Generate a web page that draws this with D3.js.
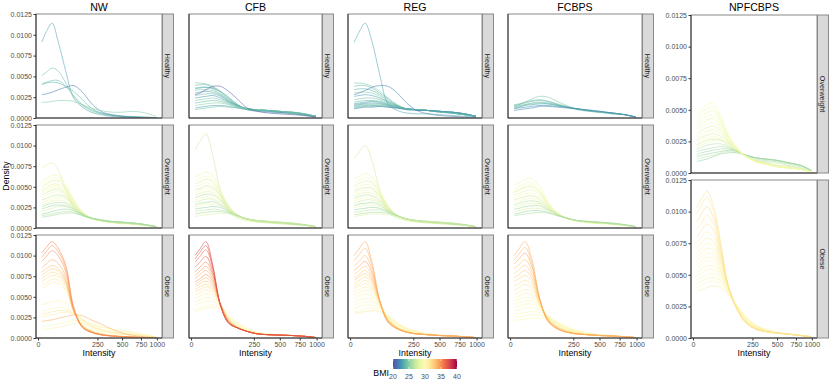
<!DOCTYPE html>
<html>
<head>
<meta charset="utf-8">
<script src="https://cdn.jsdelivr.net/npm/d3@7"></script>
<style>
  body { margin: 0; background: #fff; }
  svg { font-family: "Liberation Sans", Arial, sans-serif; display: block; }
</style>
</head>
<body>
<script>
// intensity grid shared by every density curve
const intensity = [1, 5, 14, 30, 55, 90, 140, 200, 280, 380, 500, 650, 820, 990]

const groups = ["NW", "CFB", "REG", "FCBPS", "NPFCBPS"]
const classes = ["Healthy", "Overweight", "Obese"]
const yTicks = [0, 0.0025, 0.005, 0.0075, 0.01, 0.0125]
const xTicks = [0, 250, 500, 750, 1000]
const bmiTicks = [20, 25, 30, 35, 40]

// each row: [BMI, density x 1e-4 at every intensity]
const nwHealthy = [
  [23.0, 91, 104, 114, 90, 56, 24, 13, 7, 4, 2, 1, 1, 0.5, 0.3],
  [24.3, 51, 55, 60, 56, 42, 26, 15, 9, 5, 3, 2, 1.5, 1, 0.5],
  [24.0, 41, 43, 45, 45, 38, 27, 16, 10, 6, 4, 2.5, 1.5, 1, 0.5],
  [23.6, 40, 42, 43, 42, 38, 32, 22, 12, 6, 3, 2, 1, 0.6, 0.3],
  [21.5, 28, 29, 31, 34, 37, 39, 31, 18, 8, 4, 2, 1, 0.5, 0.2],
  [24.8, 19, 19, 20, 21, 21, 20, 16, 12, 9, 7, 7, 8, 6, 2]
]
const nwOverweight = [
  [27.8, 73, 76, 79, 70, 45, 25, 15, 11, 9, 7, 6, 5, 4, 2],
  [28.8, 57, 60, 64, 63, 52, 35, 20, 13, 9, 7, 6, 5, 4, 2],
  [29.3, 53, 56, 60, 60, 50, 33, 19, 12, 9, 7, 6, 5, 3.5, 1.5],
  [27.5, 50, 53, 57, 57, 48, 32, 19, 12, 9, 7, 6, 5, 3.5, 1.5],
  [28.4, 46, 49, 53, 53, 46, 31, 19, 12, 9, 7, 6, 5, 3.5, 1.5],
  [29.5, 45, 48, 52, 51, 42, 28, 17, 11, 8, 6, 5, 4, 3, 1.2],
  [29.7, 43, 46, 49, 50, 44, 30, 18, 12, 9, 7, 6, 5, 3.5, 1.5],
  [27.1, 40, 43, 46, 47, 41, 29, 18, 12, 9, 7, 6, 5, 3.5, 1.5],
  [28.9, 37, 40, 43, 44, 39, 28, 18, 12, 9, 7, 6, 5, 3.5, 1.5],
  [26.6, 34, 36, 39, 40, 37, 27, 17, 12, 9, 7, 6, 5, 3.5, 1.5],
  [29.0, 31, 33, 36, 37, 35, 26, 17, 12, 9, 7, 6, 5, 3.5, 1.5],
  [28.2, 28, 30, 33, 34, 32, 25, 17, 12, 9, 7, 6, 5, 3.5, 1.5],
  [26.0, 26, 28, 30, 31, 30, 24, 17, 12, 9, 7, 6, 5, 3.5, 1.5],
  [25.6, 23, 25, 27, 28, 27, 23, 16, 12, 9, 8, 7, 6, 4, 1.5],
  [27.4, 20, 22, 24, 26, 26, 22, 16, 12, 9, 8, 7, 6, 4, 1.5],
  [25.4, 17, 18, 20, 22, 23, 21, 16, 12, 10, 8, 7, 6, 4, 1.5],
  [26.3, 15, 16, 17, 19, 20, 19, 15, 12, 10, 8, 7, 6, 4, 1.5],
  [25.8, 13, 14, 15, 17, 18, 18, 15, 12, 10, 8, 7, 6, 4, 1.5]
]
const nwObese = [
  [30.5, 10, 11, 12, 13, 15, 17, 18, 16, 13, 11, 9, 7, 4, 1.5],
  [30.2, 14, 15, 16, 17, 19, 21, 21, 18, 14, 10, 8, 6, 4, 1],
  [30.8, 26, 27, 28, 30, 31, 29, 23, 16, 11, 8, 6, 5, 3, 1],
  [31.8, 29, 30, 32, 33, 33, 30, 22, 14, 10, 7, 5, 4, 2.5, 0.8],
  [30.3, 33, 34, 36, 37, 36, 31, 22, 14, 9, 7, 5, 4, 2.5, 0.8],
  [30.6, 40, 42, 44, 45, 42, 33, 20, 12, 8, 6, 4, 3, 2, 0.8],
  [31.0, 60, 63, 67, 66, 58, 33, 16, 9, 5, 3, 2, 1, 0.5, 0.3],
  [31.5, 64, 67, 71, 70, 61, 33, 16, 9, 5, 3, 2, 1, 0.5, 0.3],
  [32.0, 68, 72, 76, 74, 64, 33, 15, 8, 5, 3, 2, 1, 0.5, 0.3],
  [32.6, 72, 76, 80, 77, 66, 33, 15, 8, 5, 3, 2, 1, 0.5, 0.3],
  [33.0, 76, 80, 84, 81, 68, 33, 14, 8, 4, 2.5, 1.5, 1, 0.5, 0.3],
  [33.5, 80, 84, 88, 84, 70, 33, 14, 8, 4, 2.5, 1.5, 1, 0.5, 0.3],
  [34.0, 20, 21, 22, 24, 26, 28, 27, 22, 17, 11, 6, 3, 1.5, 0.5],
  [34.2, 85, 90, 95, 90, 74, 34, 13, 7, 4, 2.5, 1.5, 1, 0.5, 0.3],
  [35.0, 93, 99, 106, 99, 80, 35, 13, 7, 4, 2.5, 1.5, 1, 0.5, 0.3],
  [34.8, 98, 105, 112, 104, 84, 36, 13, 7, 4, 2.5, 1.5, 1, 0.5, 0.3],
  [35.5, 103, 110, 117, 108, 88, 38, 13, 7, 4, 2.5, 1.5, 1, 0.5, 0.3]
]

const cfbHealthy = [
  [24.5, 42, 42, 41, 38, 32, 24, 15, 11, 10, 9, 8, 6, 4, 2],
  [24.0, 39, 40, 40, 37, 31, 23, 15, 11, 10, 9, 7, 6, 4, 2],
  [23.5, 36, 37, 37, 35, 29, 22, 15, 11, 10, 9, 7, 6, 4, 2],
  [23.2, 35, 36, 37, 36, 32, 25, 16, 10, 8, 7, 6, 5, 3, 1],
  [24.8, 33, 34, 34, 33, 28, 21, 15, 11, 10, 9, 7, 6, 4, 2],
  [23.0, 30, 31, 32, 31, 27, 20, 15, 11, 9, 8, 7, 6, 4, 2],
  [24.2, 27, 28, 29, 29, 26, 20, 14, 11, 10, 9, 8, 6, 4, 2],
  [22.5, 24, 25, 26, 27, 24, 19, 14, 11, 9, 8, 7, 6, 4, 2],
  [24.6, 21, 22, 23, 24, 22, 18, 14, 11, 10, 9, 8, 6, 4, 2],
  [23.8, 18, 19, 20, 21, 20, 17, 13, 11, 10, 9, 8, 7, 5, 2],
  [24.9, 15, 16, 17, 18, 18, 16, 13, 11, 10, 9, 8, 7, 5, 2],
  [22.8, 12, 13, 14, 15, 15, 14, 12, 10, 9, 9, 8, 7, 5, 2],
  [24.4, 10, 11, 12, 13, 14, 13, 12, 10, 9, 9, 8, 7, 5, 2],
  [20.5, 28, 30, 34, 38, 38, 32, 22, 12, 8, 6, 5, 4, 3, 1]
]
const cfbOverweight = [
  [27.0, 95, 105, 114, 88, 45, 20, 12, 9, 7, 6, 5, 4, 3, 1],
  [28.5, 62, 65, 68, 63, 46, 27, 15, 10, 8, 7, 6, 5, 3.5, 1.5],
  [29.4, 57, 60, 63, 59, 44, 26, 15, 10, 8, 7, 6, 5, 3.5, 1.5],
  [27.6, 53, 56, 59, 56, 42, 26, 15, 10, 8, 7, 6, 5, 3.5, 1.5],
  [28.9, 49, 52, 55, 52, 40, 25, 15, 10, 8, 7, 6, 5, 3.5, 1.5],
  [26.8, 46, 48, 51, 49, 39, 25, 15, 10, 8, 7, 6, 5, 3.5, 1.5],
  [29.8, 43, 45, 48, 46, 37, 24, 15, 10, 8, 7, 6, 5, 3.5, 1.5],
  [28.0, 40, 42, 44, 43, 35, 24, 15, 10, 8, 7, 6, 5, 3.5, 1.5],
  [26.2, 37, 39, 41, 40, 34, 23, 15, 11, 8, 7, 6, 5, 3.5, 1.5],
  [29.1, 34, 36, 38, 37, 32, 23, 15, 11, 8, 7, 6, 5, 3.5, 1.5],
  [27.3, 31, 33, 35, 35, 30, 22, 15, 11, 8, 7, 6, 5, 3.5, 1.5],
  [25.7, 28, 30, 31, 32, 28, 21, 15, 11, 9, 7, 6, 5, 3.5, 1.5],
  [28.3, 26, 27, 29, 29, 27, 21, 15, 11, 9, 7, 6, 5, 3.5, 1.5],
  [25.3, 23, 24, 25, 26, 25, 20, 15, 11, 9, 8, 7, 5, 4, 1.5],
  [26.5, 20, 21, 22, 23, 22, 19, 14, 11, 9, 8, 7, 6, 4, 1.5],
  [25.9, 17, 18, 19, 20, 20, 18, 14, 11, 9, 8, 7, 6, 4, 1.5],
  [27.9, 14, 15, 16, 17, 18, 17, 14, 11, 9, 8, 7, 6, 4, 1.5]
]
const cfbObese = [
  [30.5, 32, 34, 36, 37, 35, 27, 18, 12, 7, 5, 4, 3, 2, 0.5],
  [30.2, 35, 37, 39, 40, 37, 27, 17, 11, 7, 5, 4, 3, 2, 0.5],
  [30.4, 40, 42, 44, 44, 39, 26, 16, 10, 6, 4, 3.5, 3, 2, 0.5],
  [30.7, 44, 46, 49, 48, 40, 25, 15, 9, 6, 4, 3.5, 3, 2, 0.5],
  [31.0, 48, 51, 54, 52, 41, 24, 14, 9, 6, 4, 3.5, 3, 2, 0.5],
  [31.5, 52, 55, 58, 55, 41, 23, 13, 8, 5, 4, 3.5, 3, 2, 0.5],
  [32.0, 56, 59, 62, 58, 41, 22, 13, 8, 5, 4, 3.5, 3, 2, 0.5],
  [32.5, 59, 62, 65, 60, 41, 21, 13, 8, 5, 4, 3.5, 3, 2, 0.5],
  [33.0, 62, 66, 69, 63, 41, 21, 12, 8, 5, 4, 3.5, 3, 2, 0.5],
  [33.5, 65, 69, 73, 65, 41, 20, 12, 8, 5, 4, 3.5, 3, 2, 0.5],
  [35.0, 68, 72, 77, 68, 41, 20, 12, 8, 5, 4, 3.5, 3, 2, 0.5],
  [34.0, 72, 77, 82, 71, 41, 19, 12, 8, 5, 4, 3.5, 3, 2, 0.5],
  [34.6, 76, 81, 87, 74, 40, 19, 12, 8, 5, 4, 3.5, 3, 2, 0.5],
  [35.5, 80, 86, 92, 77, 40, 19, 12, 8, 5, 4, 3.5, 3, 2, 0.5],
  [36.8, 86, 92, 99, 80, 40, 18, 12, 8, 5, 4, 3.5, 3, 2, 0.5],
  [36.2, 92, 99, 107, 84, 40, 18, 12, 8, 5, 4, 3.5, 3, 2, 0.5],
  [37.0, 96, 104, 112, 86, 39, 18, 12, 8, 5, 4, 3.5, 3, 2, 0.5],
  [37.5, 100, 108, 117, 88, 39, 18, 12, 8, 5, 4, 3.5, 3, 2, 0.5]
]

const regHealthy = [
  [24.6, 42, 42, 41, 38, 32, 24, 16, 11, 10, 9, 8, 6, 4, 2],
  [24.0, 38, 39, 39, 36, 30, 23, 15, 11, 10, 9, 8, 6, 4, 2],
  [23.4, 34, 35, 35, 33, 28, 21, 15, 11, 10, 9, 7, 6, 4, 2],
  [24.8, 30, 31, 31, 30, 26, 20, 15, 11, 10, 9, 7, 6, 4, 2],
  [22.7, 26, 27, 28, 27, 24, 19, 14, 11, 10, 9, 7, 6, 4, 2],
  [24.3, 22, 23, 24, 24, 22, 18, 14, 11, 10, 9, 8, 6, 4, 2],
  [23.8, 19, 20, 21, 21, 20, 17, 14, 11, 10, 9, 8, 6, 4, 2],
  [22.9, 17, 18, 19, 20, 19, 16, 13, 11, 10, 9, 8, 7, 5, 2],
  [24.5, 16, 17, 18, 19, 18, 16, 13, 11, 10, 9, 8, 7, 5, 2],
  [22.2, 15, 16, 17, 17, 17, 15, 13, 11, 10, 9, 8, 7, 5, 2],
  [24.9, 14, 15, 16, 16, 16, 15, 13, 11, 10, 9, 8, 7, 5, 2],
  [23.3, 13, 14, 15, 15, 15, 14, 12, 11, 10, 9, 8, 7, 5, 2],
  [24.1, 12, 13, 14, 14, 14, 13, 12, 10, 10, 9, 8, 7, 5, 2],
  [22.0, 11, 12, 13, 13, 14, 13, 12, 10, 9, 9, 8, 7, 5, 2],
  [21.6, 28, 30, 33, 37, 39, 38, 30, 18, 9, 5, 3, 2, 1, 0.5],
  [23.0, 91, 103, 114, 92, 52, 17, 9, 6, 5, 5, 4, 3, 2, 1]
]
const regOverweight = [
  [27.2, 84, 92, 100, 82, 45, 20, 12, 9, 7, 6, 5, 4, 3, 1],
  [28.6, 60, 63, 66, 62, 46, 27, 15, 10, 8, 7, 6, 5, 3.5, 1.5],
  [29.5, 55, 58, 61, 58, 44, 26, 15, 10, 8, 7, 6, 5, 3.5, 1.5],
  [27.7, 51, 54, 57, 55, 42, 26, 15, 10, 8, 7, 6, 5, 3.5, 1.5],
  [28.9, 48, 50, 53, 51, 40, 25, 15, 10, 8, 7, 6, 5, 3.5, 1.5],
  [26.9, 45, 47, 49, 48, 38, 25, 15, 10, 8, 7, 6, 5, 3.5, 1.5],
  [29.7, 42, 44, 46, 45, 37, 24, 15, 10, 8, 7, 6, 5, 3.5, 1.5],
  [28.1, 39, 41, 43, 42, 35, 24, 15, 10, 8, 7, 6, 5, 3.5, 1.5],
  [26.3, 36, 38, 40, 39, 33, 23, 15, 11, 8, 7, 6, 5, 3.5, 1.5],
  [29.2, 33, 35, 37, 36, 31, 23, 15, 11, 8, 7, 6, 5, 3.5, 1.5],
  [27.4, 30, 32, 34, 34, 30, 22, 15, 11, 8, 7, 6, 5, 3.5, 1.5],
  [25.6, 27, 29, 30, 31, 28, 21, 15, 11, 9, 7, 6, 5, 3.5, 1.5],
  [28.4, 25, 26, 28, 28, 26, 21, 15, 11, 9, 7, 6, 5, 3.5, 1.5],
  [25.4, 22, 23, 24, 25, 24, 20, 15, 11, 9, 8, 7, 5, 4, 1.5],
  [26.6, 19, 20, 21, 22, 22, 19, 14, 11, 9, 8, 7, 6, 4, 1.5],
  [25.8, 16, 17, 18, 19, 19, 18, 14, 11, 9, 8, 7, 6, 4, 1.5],
  [27.8, 14, 15, 16, 17, 17, 16, 14, 11, 9, 8, 7, 6, 4, 1.5]
]
const regObese = [
  [31.4, 30, 31, 32, 33, 32, 26, 18, 12, 8, 5, 3.5, 2.5, 1.5, 0.5],
  [30.2, 32, 33, 35, 36, 34, 27, 18, 12, 8, 5, 3.5, 2.5, 1.5, 0.5],
  [30.4, 36, 38, 40, 40, 36, 27, 18, 11, 7, 5, 3.5, 2.5, 1.5, 0.5],
  [30.1, 40, 42, 44, 44, 38, 26, 17, 10, 7, 5, 3.5, 2.5, 1.5, 0.5],
  [30.3, 44, 46, 48, 47, 39, 26, 16, 10, 6, 4, 3, 2.5, 1.5, 0.5],
  [30.6, 48, 51, 53, 51, 40, 25, 15, 9, 6, 4, 3, 2.5, 1.5, 0.5],
  [30.9, 52, 55, 58, 55, 41, 24, 14, 9, 6, 4, 3, 2.5, 1.5, 0.5],
  [31.2, 56, 59, 62, 58, 42, 23, 13, 8, 5, 4, 3, 2.5, 1.5, 0.5],
  [31.6, 60, 63, 66, 61, 43, 23, 13, 8, 5, 4, 3, 2.5, 1.5, 0.5],
  [32.0, 63, 66, 70, 64, 43, 22, 12, 8, 5, 4, 3, 2.5, 1.5, 0.5],
  [32.4, 66, 70, 74, 67, 44, 22, 12, 8, 5, 4, 3, 2.5, 1.5, 0.5],
  [33.2, 70, 74, 78, 70, 44, 21, 12, 7, 5, 4, 3, 2.5, 1.5, 0.5],
  [32.8, 73, 77, 82, 72, 44, 21, 12, 7, 5, 4, 3, 2.5, 1.5, 0.5],
  [33.0, 77, 82, 87, 75, 45, 21, 12, 7, 5, 4, 3, 2.5, 1.5, 0.5],
  [34.5, 82, 87, 93, 79, 45, 20, 11, 7, 5, 4, 3, 2.5, 1.5, 0.5],
  [33.5, 87, 93, 100, 83, 45, 20, 11, 7, 5, 4, 3, 2.5, 1.5, 0.5],
  [33.8, 94, 101, 109, 88, 45, 19, 11, 7, 5, 4, 3, 2.5, 1.5, 0.5],
  [34.2, 100, 108, 117, 92, 45, 19, 11, 7, 5, 4, 3, 2.5, 1.5, 0.5]
]

const fcbpsHealthy = [
  [24.5, 14, 16, 19, 23, 26, 25, 20, 15, 11, 9, 7, 5, 4, 1],
  [23.8, 16, 17, 19, 21, 22, 20, 16, 13, 10, 8, 7, 5, 4, 1],
  [24.0, 15, 16, 18, 20, 21, 20, 17, 14, 11, 9, 7, 6, 4, 1],
  [23.5, 13, 14, 16, 18, 19, 18, 16, 13, 11, 9, 7, 6, 4, 1],
  [24.8, 14, 15, 16, 17, 18, 17, 15, 13, 11, 9, 7, 6, 4, 1],
  [23.0, 12, 13, 15, 16, 17, 17, 15, 13, 11, 9, 8, 6, 4, 1],
  [22.5, 11, 12, 13, 14, 15, 15, 14, 13, 11, 10, 8, 6, 4, 1.5],
  [22.0, 9, 10, 11, 12, 14, 14, 13, 12, 11, 9, 8, 6, 4, 1]
]
const fcbpsOverweight = [
  [28.7, 52, 55, 59, 60, 50, 32, 18, 12, 9, 7, 6, 5, 3.5, 1.5],
  [29.4, 47, 50, 54, 55, 46, 30, 18, 12, 9, 7, 6, 5, 3.5, 1.5],
  [29.6, 44, 47, 51, 52, 44, 29, 17, 11, 8, 6, 5, 4, 3, 1.2],
  [27.9, 43, 46, 49, 50, 43, 29, 18, 12, 9, 7, 6, 5, 3.5, 1.5],
  [28.3, 40, 42, 45, 46, 40, 28, 18, 12, 9, 7, 6, 5, 3.5, 1.5],
  [29.8, 37, 39, 41, 42, 37, 27, 17, 12, 9, 7, 6, 5, 3.5, 1.5],
  [27.0, 34, 36, 38, 39, 35, 26, 17, 12, 9, 7, 6, 5, 3.5, 1.5],
  [29.0, 31, 33, 35, 36, 33, 25, 17, 12, 9, 7, 6, 5, 3.5, 1.5],
  [26.4, 28, 30, 32, 33, 31, 24, 17, 12, 9, 7, 6, 5, 3.5, 1.5],
  [28.0, 26, 27, 29, 30, 29, 23, 16, 12, 9, 8, 6, 5, 3.5, 1.5],
  [25.7, 23, 24, 26, 27, 27, 22, 16, 12, 9, 8, 7, 5, 4, 1.5],
  [27.5, 20, 21, 23, 24, 24, 21, 16, 12, 9, 8, 7, 6, 4, 1.5],
  [25.3, 17, 18, 20, 21, 21, 19, 15, 12, 9, 8, 7, 6, 4, 1.5],
  [26.1, 15, 16, 17, 18, 19, 18, 15, 12, 9, 8, 7, 6, 4, 1.5]
]
const fcbpsObese = [
  [30.0, 21, 22, 23, 24, 24, 23, 19, 14, 9, 6, 4, 3, 1.5, 0.5],
  [30.7, 25, 26, 27, 28, 28, 25, 19, 13, 9, 6, 4, 3, 1.5, 0.5],
  [30.2, 29, 30, 31, 32, 31, 26, 19, 13, 8, 5, 3.5, 2.5, 1.5, 0.5],
  [30.4, 33, 34, 36, 37, 34, 27, 18, 12, 8, 5, 3.5, 2.5, 1.5, 0.5],
  [30.1, 37, 39, 41, 41, 36, 27, 18, 11, 7, 5, 3.5, 2.5, 1.5, 0.5],
  [30.3, 41, 43, 45, 45, 38, 26, 17, 11, 7, 5, 3.5, 2.5, 1.5, 0.5],
  [30.6, 45, 47, 49, 48, 39, 26, 16, 10, 6, 4, 3, 2.5, 1.5, 0.5],
  [30.9, 49, 51, 54, 52, 40, 25, 15, 10, 6, 4, 3, 2.5, 1.5, 0.5],
  [31.3, 53, 56, 59, 56, 41, 24, 14, 9, 6, 4, 3, 2.5, 1.5, 0.5],
  [31.7, 58, 61, 65, 60, 42, 24, 14, 9, 6, 4, 3, 2.5, 1.5, 0.5],
  [32.1, 63, 66, 70, 64, 43, 23, 13, 8, 5, 4, 3, 2.5, 1.5, 0.5],
  [32.5, 68, 72, 76, 68, 44, 23, 13, 8, 5, 4, 3, 2.5, 1.5, 0.5],
  [33.1, 73, 77, 82, 72, 45, 22, 12, 8, 5, 4, 3, 2.5, 1.5, 0.5],
  [32.9, 78, 83, 88, 76, 46, 22, 12, 7, 5, 4, 3, 2.5, 1.5, 0.5],
  [33.3, 84, 89, 95, 81, 46, 21, 12, 7, 5, 4, 3, 2.5, 1.5, 0.5],
  [34.3, 90, 96, 103, 86, 47, 21, 11, 7, 5, 4, 3, 2.5, 1.5, 0.5],
  [33.7, 95, 102, 110, 90, 47, 20, 11, 7, 5, 4, 3, 2.5, 1.5, 0.5],
  [34.0, 100, 108, 117, 95, 48, 20, 11, 7, 5, 4, 3, 2.5, 1.5, 0.5]
]

const npfcbpsOverweight = [
  [25.2, 9, 10, 11, 13, 15, 16, 16, 14, 12, 11, 10, 8, 6, 2],
  [26.8, 11, 12, 13, 14, 16, 17, 16, 14, 12, 11, 10, 8, 6, 2],
  [25.4, 13, 14, 15, 16, 17, 18, 17, 14, 12, 11, 10, 8, 6, 2],
  [25.6, 15, 16, 17, 18, 19, 19, 17, 14, 12, 11, 10, 8, 6, 2],
  [26.0, 17, 18, 19, 20, 21, 20, 17, 14, 11, 10, 9, 7, 5, 2],
  [26.5, 19, 20, 22, 23, 23, 21, 17, 13, 10, 9, 8, 6, 4, 1.5],
  [28.5, 20, 22, 24, 26, 26, 23, 18, 13, 10, 8, 6, 5, 3, 1],
  [27.2, 22, 24, 26, 27, 26, 22, 17, 13, 10, 8, 6, 5, 3, 1],
  [29.4, 24, 26, 28, 29, 27, 23, 18, 13, 10, 7, 6, 4, 3, 1],
  [27.6, 26, 28, 30, 31, 29, 24, 18, 13, 9, 7, 5, 4, 3, 1],
  [28.9, 28, 30, 33, 34, 31, 25, 18, 13, 9, 7, 5, 4, 3, 1],
  [28.0, 30, 33, 36, 37, 33, 25, 18, 13, 9, 7, 5, 4, 3, 1],
  [29.8, 32, 35, 39, 40, 35, 26, 19, 13, 9, 7, 5, 4, 3, 1],
  [28.3, 35, 38, 42, 43, 37, 27, 19, 13, 9, 7, 5, 4, 3, 1],
  [29.3, 37, 41, 45, 46, 39, 28, 19, 13, 9, 7, 5, 4, 3, 1],
  [28.7, 40, 44, 48, 49, 41, 28, 19, 13, 9, 7, 5, 4, 3, 1],
  [29.1, 43, 47, 51, 52, 43, 29, 19, 13, 9, 7, 5, 4, 3, 1],
  [29.6, 46, 50, 54, 55, 45, 30, 20, 13, 9, 7, 5, 4, 3, 1]
]
const npfcbpsObese = [
  [31.1, 37, 38, 40, 41, 40, 34, 25, 17, 10, 7, 5, 3, 2, 1],
  [30.0, 40, 42, 44, 45, 43, 35, 25, 16, 10, 6, 4, 3, 2, 1],
  [30.6, 43, 45, 47, 48, 45, 36, 25, 16, 10, 6, 4, 3, 2, 1],
  [30.2, 46, 48, 50, 51, 46, 37, 25, 15, 9, 6, 4, 3, 2, 1],
  [30.4, 49, 51, 54, 54, 48, 37, 24, 15, 9, 6, 4, 3, 2, 1],
  [30.9, 52, 55, 57, 57, 50, 38, 24, 14, 9, 6, 4, 3, 2, 1],
  [30.1, 55, 58, 61, 60, 52, 39, 24, 14, 8, 6, 4, 3, 2, 1],
  [30.7, 58, 61, 64, 63, 53, 39, 23, 14, 8, 5, 4, 3, 2, 1],
  [30.3, 61, 64, 67, 66, 55, 39, 23, 13, 8, 5, 4, 3, 2, 1],
  [31.0, 64, 67, 71, 69, 57, 40, 23, 13, 8, 5, 4, 3, 2, 1],
  [30.5, 67, 71, 75, 72, 59, 40, 23, 13, 8, 5, 4, 3, 2, 1],
  [31.4, 71, 75, 79, 76, 61, 40, 22, 13, 8, 5, 4, 3, 2, 1],
  [30.8, 75, 80, 84, 80, 63, 40, 22, 13, 8, 5, 4, 3, 2, 1],
  [31.9, 80, 85, 90, 85, 65, 40, 22, 12, 7, 5, 4, 3, 2, 1],
  [31.2, 86, 91, 97, 90, 68, 40, 22, 12, 7, 5, 4, 3, 2, 1],
  [32.2, 92, 98, 104, 95, 70, 40, 22, 12, 7, 5, 4, 3, 2, 1],
  [31.5, 98, 105, 111, 100, 73, 40, 22, 12, 7, 5, 4, 3, 2, 1],
  [31.8, 103, 110, 116, 104, 75, 40, 22, 12, 7, 5, 4, 3, 2, 1]
]

const curvesByGroup = {
  NW: [nwHealthy, nwOverweight, nwObese],
  CFB: [cfbHealthy, cfbOverweight, cfbObese],
  REG: [regHealthy, regOverweight, regObese],
  FCBPS: [fcbpsHealthy, fcbpsOverweight, fcbpsObese],
  NPFCBPS: [null, npfcbpsOverweight, npfcbpsObese]
}

// layout
const W = 830, H = 383
const stripW = 11
const columns = [
  {left: 36, right: 162},
  {left: 189, right: 322},
  {left: 348, right: 482},
  {left: 508, right: 642},
  {left: 691, right: 817}
]
const rows3 = [{top: 14, bottom: 118}, {top: 125, bottom: 228}, {top: 235, bottom: 338}]
const rows2 = [null, {top: 15, bottom: 173}, {top: 180, bottom: 338}]

const color = d3.scaleSequential(t => d3.interpolateSpectral(1 - t)).domain([20, 40])

const svg = d3.select("body").append("svg")
  .attr("width", W)
  .attr("height", H)
  .attr("viewBox", [0, 0, W, H])

svg.append("rect").attr("width", W).attr("height", H).attr("fill", "#fff")

const defs = svg.append("defs")
let clipId = 0

function drawPanel(box, curves, label, showY, showX) {
  const {left, right, top, bottom} = box
  const sLo = Math.sqrt(intensity[0])
  const sHi = Math.sqrt(intensity[intensity.length - 1])
  const pad = 0.05 * (sHi - sLo)
  const lin = d3.scaleLinear().domain([sLo - pad, sHi + pad]).range([left, right])
  const x = d3.scaleSqrt().domain([0, 1000]).range([lin(0), lin(Math.sqrt(1000))])
  const y = d3.scaleLinear().domain([0, 0.0125]).range([bottom, top])

  const id = "clip" + (clipId++)
  defs.append("clipPath").attr("id", id)
    .append("rect")
    .attr("x", left).attr("y", top)
    .attr("width", right - left).attr("height", bottom - top)

  const g = svg.append("g")

  const line = d3.line()
    .x((d, i) => x(intensity[i]))
    .y(d => y(d * 1e-4))
    .curve(d3.curveCatmullRom.alpha(0.5))

  g.append("g")
    .attr("clip-path", `url(#${id})`)
    .selectAll("path")
    .data(curves)
    .join("path")
    .attr("d", d => line(d.slice(1)))
    .attr("fill", "none")
    .attr("stroke", d => color(d[0]))
    .attr("stroke-width", 0.65)
    .attr("stroke-opacity", 0.85)

  g.append("rect")
    .attr("x", left).attr("y", top)
    .attr("width", right - left).attr("height", bottom - top)
    .attr("fill", "none")
    .attr("stroke", "#8a8a8a")
    .attr("stroke-width", 1)

  // axis lines
  g.append("line")
    .attr("x1", left).attr("x2", left).attr("y1", top).attr("y2", bottom)
    .attr("stroke", "#222").attr("stroke-width", 0.9)
  g.append("line")
    .attr("x1", left).attr("x2", right).attr("y1", bottom).attr("y2", bottom)
    .attr("stroke", "#222").attr("stroke-width", 0.9)

  // strip
  g.append("rect")
    .attr("x", right + 0.5).attr("y", top)
    .attr("width", stripW).attr("height", bottom - top)
    .attr("fill", "#d9d9d9")
    .attr("stroke", "#8a8a8a")
    .attr("stroke-width", 1)
  g.append("text")
    .attr("transform", `translate(${right + 0.5 + stripW / 2}, ${(top + bottom) / 2}) rotate(90)`)
    .attr("text-anchor", "middle")
    .attr("dy", "0.35em")
    .attr("font-size", 7.2)
    .attr("fill", "#1a1a1a")
    .text(label)

  if (showY) {
    g.append("g")
      .attr("transform", `translate(${left}, 0)`)
      .call(d3.axisLeft(y).tickValues(yTicks).tickFormat(d3.format(".4f")).tickSize(2.5).tickPadding(1.5))
      .call(a => a.select(".domain").remove())
      .call(a => a.selectAll("line").attr("stroke", "#333"))
      .call(a => a.selectAll("text").attr("fill", "#4d4d4d").attr("font-size", 7).attr("font-family", null))
  }

  if (showX) {
    g.append("g")
      .attr("transform", `translate(0, ${bottom})`)
      .call(d3.axisBottom(x).tickValues(xTicks).tickFormat(d3.format("d")).tickSize(2.5).tickPadding(1.5))
      .call(a => a.select(".domain").remove())
      .call(a => a.selectAll("line").attr("stroke", "#333"))
      .call(a => a.selectAll("text").attr("fill", "#4d4d4d").attr("font-size", 7).attr("font-family", null))

    svg.append("text")
      .attr("x", (left + right) / 2)
      .attr("y", 356)
      .attr("text-anchor", "middle")
      .attr("font-size", 8.8)
      .attr("fill", "#000")
      .text("Intensity")
  }
}

groups.forEach((grp, ci) => {
  const col = columns[ci]
  const isLast = grp === "NPFCBPS"
  const rows = isLast ? rows2 : rows3

  svg.append("text")
    .attr("x", (col.left + col.right) / 2)
    .attr("y", 11)
    .attr("text-anchor", "middle")
    .attr("font-size", 10.6)
    .attr("fill", "#000")
    .text(grp)

  classes.forEach((cls, ri) => {
    const curves = curvesByGroup[grp][ri]
    if (!curves) return
    const r = rows[ri]
    drawPanel({left: col.left, right: col.right, top: r.top, bottom: r.bottom},
      curves, cls, ci === 0 || isLast, ri === 2)
  })
})

svg.append("text")
  .attr("transform", "translate(9, 176) rotate(-90)")
  .attr("text-anchor", "middle")
  .attr("font-size", 8.8)
  .attr("fill", "#000")
  .text("Density")

// colour bar legend
const bar = {left: 393, right: 457, top: 359, bottom: 369}
const grad = defs.append("linearGradient").attr("id", "bmiGrad")
d3.range(0, 1.0001, 0.05).forEach(t => {
  grad.append("stop")
    .attr("offset", `${t * 100}%`)
    .attr("stop-color", color(20 + t * 20))
})
svg.append("rect")
  .attr("x", bar.left).attr("y", bar.top)
  .attr("width", bar.right - bar.left).attr("height", bar.bottom - bar.top)
  .attr("fill", "url(#bmiGrad)")

const bmiX = d3.scaleLinear().domain([20, 40]).range([bar.left, bar.right])
const legendTicks = svg.append("g")
legendTicks.selectAll("line.top")
  .data(bmiTicks)
  .join("line")
  .attr("x1", d => bmiX(d)).attr("x2", d => bmiX(d))
  .attr("y1", bar.top).attr("y2", bar.top + 2)
  .attr("stroke", "#fff").attr("stroke-width", 0.6)
legendTicks.selectAll("line.bottom")
  .data(bmiTicks)
  .join(enter => enter.append("line"))
  .attr("x1", d => bmiX(d)).attr("x2", d => bmiX(d))
  .attr("y1", bar.bottom - 2).attr("y2", bar.bottom)
  .attr("stroke", "#fff").attr("stroke-width", 0.6)

svg.append("g").selectAll("text")
  .data(bmiTicks)
  .join("text")
  .attr("x", d => bmiX(d))
  .attr("y", 379)
  .attr("text-anchor", "middle")
  .attr("font-size", 7)
  .attr("fill", "#4d4d4d")
  .text(d => d)

svg.append("text")
  .attr("x", 389)
  .attr("y", 376)
  .attr("text-anchor", "end")
  .attr("font-size", 8.8)
  .attr("fill", "#000")
  .text("BMI")
</script>
</body>
</html>
